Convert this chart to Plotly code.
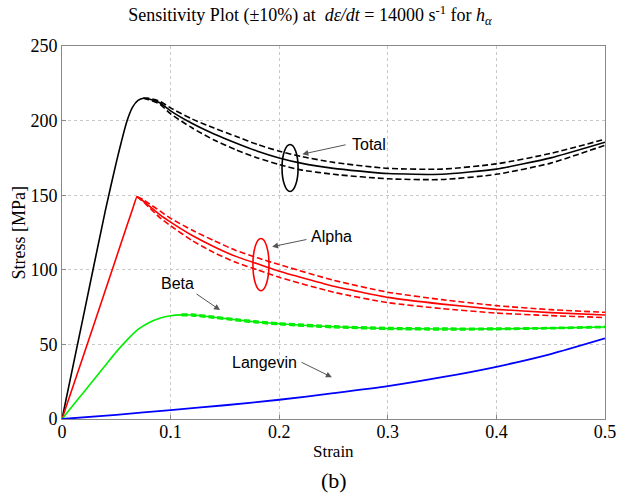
import plotly.graph_objects as go

# ---- data ----
total_x = [0, 0.02, 0.04, 0.05, 0.06, 0.065, 0.07, 0.075, 0.08, 0.09, 0.1, 0.12, 0.14, 0.16, 0.18, 0.2, 0.22, 0.25, 0.3, 0.35, 0.4, 0.45, 0.5]
total_y = [0, 70, 140, 172, 200, 209, 213.5, 215, 214.5, 212, 206.5, 198, 191, 185, 179.5, 175, 171.5, 168, 164.5, 164, 167.5, 175, 185.5]
total_dx = [0.075, 0.08, 0.09, 0.1, 0.12, 0.14, 0.16, 0.18, 0.2, 0.22, 0.25, 0.3, 0.35, 0.4, 0.45, 0.5]
total_hi = [215, 215, 213, 208.5, 201, 195, 189.5, 184, 179.5, 176, 172, 168, 167.5, 171, 178, 187.5]
total_lo = [215, 214, 211, 204.5, 195, 187, 180.5, 175, 170.5, 167, 164, 161, 160.5, 164, 171.5, 183.5]

alpha_x = [0, 0.02, 0.04, 0.06, 0.066, 0.069, 0.075, 0.08, 0.09, 0.1, 0.12, 0.14, 0.16, 0.18, 0.2, 0.25, 0.3, 0.35, 0.4, 0.45, 0.5]
alpha_y = [0, 43, 86.5, 130, 143, 149, 146, 143, 137, 132, 123, 115.5, 109, 104, 99, 89, 81.5, 77, 73.5, 71.3, 69.7]
alpha_dx = [0.069, 0.075, 0.08, 0.09, 0.1, 0.12, 0.14, 0.16, 0.18, 0.2, 0.25, 0.3, 0.35, 0.4, 0.45, 0.5]
alpha_hi = [149, 147, 144.5, 139.5, 134.5, 126.5, 119.5, 113, 108, 103.5, 93, 85, 80, 76, 73.3, 71.5]
alpha_lo = [149, 145.5, 142, 135, 129.5, 119.5, 111.5, 105, 100, 95, 85, 78, 74, 71, 69.3, 68]

beta_x = [0, 0.01, 0.02, 0.03, 0.04, 0.05, 0.06, 0.07, 0.08, 0.09, 0.1, 0.11, 0.12, 0.14, 0.16, 0.18, 0.2, 0.25, 0.3, 0.35, 0.4, 0.45, 0.5]
beta_y = [0, 9, 18, 27, 36, 45, 53, 60, 64.5, 67.5, 69.2, 69.8, 69.7, 68.2, 66.5, 65, 63.8, 61.8, 60.7, 60.3, 60.4, 60.9, 61.7]
beta_dx = [0.11, 0.12, 0.14, 0.16, 0.18, 0.2, 0.25, 0.3, 0.35, 0.4, 0.45, 0.5]
beta_hi = [70.3, 70.3, 68.8, 67.1, 65.6, 64.4, 62.4, 61.3, 60.9, 60.9, 61.3, 62.1]
beta_lo = [69.3, 69.1, 67.6, 65.9, 64.4, 63.2, 61.2, 60.1, 59.7, 59.9, 60.5, 61.3]

lang_x = [0, 0.05, 0.1, 0.15, 0.2, 0.25, 0.3, 0.35, 0.4, 0.45, 0.5]
lang_y = [0, 2.8, 6, 9.2, 12.9, 17.3, 22, 28, 35, 43.5, 54]

x_ticks = [0, 0.1, 0.2, 0.3, 0.4, 0.5]
y_ticks = [0, 50, 100, 150, 200, 250]

DASH = "6px,3px"
fig = go.Figure()

def add(x, y, color, dash=None, w=1.6, smooth=0.6):
    fig.add_trace(go.Scatter(x=x, y=y, mode="lines",
                             line=dict(color=color, width=w, dash=dash or "solid",
                                       shape="spline", smoothing=smooth),
                             showlegend=False, hoverinfo="skip"))

add(total_dx, total_hi, "#000000", DASH)
add(total_dx, total_lo, "#000000", DASH)
add(total_x, total_y, "#000000", smooth=0.5)
add(alpha_dx, alpha_hi, "#ff0000", DASH)
add(alpha_dx, alpha_lo, "#ff0000", DASH)
add(alpha_x, alpha_y, "#ff0000", smooth=0.3)
add(beta_dx, beta_hi, "#00ee00", DASH)
add(beta_dx, beta_lo, "#00ee00", DASH)
add(beta_x, beta_y, "#00ee00")
add(lang_x, lang_y, "#0000ff", w=1.8)

serif = "Liberation Serif, Times New Roman, serif"
sans = "Liberation Sans, Arial, sans-serif"

# ellipses
fig.add_shape(type="circle", xref="x", yref="y", x0=0.2026, x1=0.2174, y0=152.5, y1=184,
              line=dict(color="#000000", width=1.6))
fig.add_shape(type="circle", xref="x", yref="y", x0=0.1758, x1=0.1906, y0=86, y1=121,
              line=dict(color="#ff0000", width=1.6))

def arrow(x, y, ax, ay):
    fig.add_annotation(x=x, y=y, ax=ax, ay=ay, xref="x", yref="y", axref="x", ayref="y",
                       text="", showarrow=True, arrowhead=2, arrowsize=1.2, arrowwidth=1,
                       arrowcolor="#555555")

def label(x, y, t):
    fig.add_annotation(x=x, y=y, xref="x", yref="y", text=t, showarrow=False,
                       xanchor="left", yanchor="middle",
                       font=dict(family=sans, size=16, color="#000000"))

label(0.2655, 184, "Total")
arrow(0.2213, 177.5, 0.2625, 184)
label(0.2275, 122, "Alpha")
arrow(0.1935, 115.5, 0.2265, 120.5)
label(0.0893, 91, "Beta")
arrow(0.1455, 73, 0.1225, 84.5)
label(0.1545, 38, "Langevin")
arrow(0.2485, 28, 0.2192, 38.5)

# axis titles and panel label as paper annotations
fig.add_annotation(x=0.5, y=0, xref="paper", yref="paper", yshift=-32, text="Strain",
                   showarrow=False, xanchor="center", yanchor="middle",
                   font=dict(family=serif, size=17, color="#000000"))
fig.add_annotation(x=0, y=0.5, xref="paper", yref="paper", xshift=-44, text="Stress [MPa]",
                   textangle=-90, showarrow=False, xanchor="center", yanchor="middle",
                   font=dict(family=serif, size=18, color="#000000"))
fig.add_annotation(x=0.5, y=0, xref="paper", yref="paper", yshift=-61, text="(b)",
                   showarrow=False, xanchor="center", yanchor="middle",
                   font=dict(family=serif, size=22, color="#000000"))

axis_common = dict(showline=True, linecolor="#888888", linewidth=1, mirror=True,
                   ticks="inside", ticklen=4, tickcolor="#888888", automargin=False,
                   showgrid=True, gridcolor="#c8c8c8", griddash="dot", gridwidth=1,
                   zeroline=False, tickfont=dict(family=serif, size=18, color="#000000"))

fig.update_layout(
    width=620, height=494,
    margin=dict(l=62, r=15, t=46, b=75),
    paper_bgcolor="#ffffff", plot_bgcolor="#ffffff",
    title=dict(text="Sensitivity Plot (±10%) at  <i>dε/dt</i> = 14000 s<sup>-1</sup> for <i>h</i><sub><i>α</i></sub>",
               x=0.5, xanchor="center", y=0.97, yanchor="middle",
               font=dict(family=serif, size=18, color="#000000")),
    xaxis=dict(range=[0, 0.5], tickvals=x_ticks, ticktext=[str(v) for v in x_ticks],
               ticklabelstandoff=-4, **axis_common),
    yaxis=dict(range=[0, 250], tickvals=y_ticks, **axis_common),
)

fig.write_html("out.html")
